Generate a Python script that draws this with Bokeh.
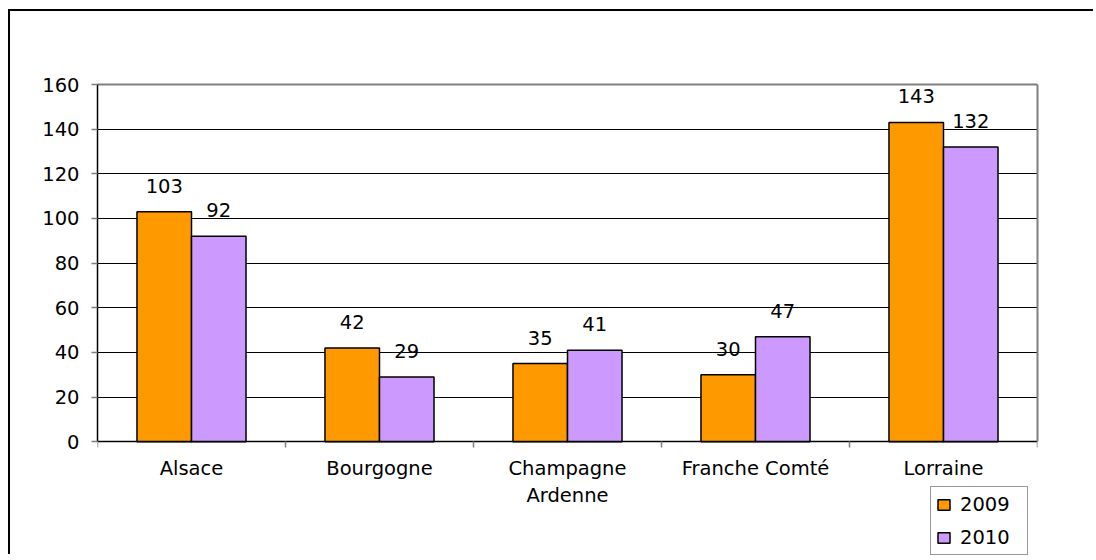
from bokeh.plotting import figure
from bokeh.models import (ColumnDataSource, FixedTicker, Range1d, Legend, LegendItem,
                          LabelSet, LinearAxis)
from bokeh.core.properties import value
from bokeh.transform import dodge
from bokeh.embed import file_html
from bokeh.resources import INLINE
import numpy as np

regions = ["Alsace", "Bourgogne", "Champagne\nArdenne", "Franche Comté", "Lorraine"]
values_2009 = [103, 42, 35, 30, 143]
values_2010 = [92, 29, 41, 47, 132]
series_names = ["2009", "2010"]
colors = ["#FF9900", "#CC99FF"]
y_ticks = [0, 20, 40, 60, 80, 100, 120, 140, 160]

FONT = "DejaVu Sans"
FS = "19.5px"

idx = np.arange(len(regions))
src = ColumnDataSource(dict(x=idx, v09=values_2009, v10=values_2010,
                            l09=[str(v) for v in values_2009],
                            l10=[str(v) for v in values_2010]))

# frame spans down to the figure's bottom so the legend (below the axis) is not clipped;
# value 0 sits 115px above the frame bottom on a 358px-per-160 scale
y_start = -160 * 115 / 358
p = figure(width=1085, height=545, output_backend="svg", toolbar_location=None,
           x_range=Range1d(-0.5, len(regions) - 0.5), y_range=Range1d(y_start, 160),
           x_axis_location=None,
           min_border_left=87, min_border_top=73, min_border_right=58, min_border_bottom=0)
p.styles = {"border-left": "2px solid #000", "border-top": "2px solid #000",
            "border-right": "none", "border-bottom": "none",
            "margin-left": "8px", "margin-top": "9px"}

bw = 0.29
r1 = p.vbar(x=dodge("x", -bw / 2, range=p.x_range), top="v09", width=bw, source=src,
            fill_color=colors[0], line_color="black", line_width=1.5)
r2 = p.vbar(x=dodge("x", bw / 2, range=p.x_range), top="v10", width=bw, source=src,
            fill_color=colors[1], line_color="black", line_width=1.5)

for col, ycol, off in (("l09", "v09", -bw / 2), ("l10", "v10", bw / 2)):
    ls = LabelSet(x=dodge("x", off, range=p.x_range), y=ycol, text=col, source=src,
                  text_align="center", text_baseline="alphabetic", y_offset=19,
                  text_font=value(FONT), text_font_size=value(FS), text_color="black")
    p.add_layout(ls)

# x axis, fixed at y = 0
xa = LinearAxis(fixed_location=0)
xa.ticker = FixedTicker(ticks=list(idx), minor_ticks=list(np.arange(len(regions) + 1) - 0.5))
xa.major_label_overrides = {int(i): r for i, r in zip(idx, regions)}
xa.major_tick_out = 0
xa.major_tick_in = 0
xa.minor_tick_out = 6
xa.minor_tick_in = 0
xa.minor_tick_line_color = "#808080"
xa.minor_tick_line_width = 1.5
xa.axis_line_color = "black"
xa.axis_line_width = 1.5
xa.major_label_text_font = FONT
xa.major_label_text_font_size = FS
xa.major_label_text_color = "black"
xa.major_label_standoff = 9
p.add_layout(xa, "below")

ya = p.yaxis[0]
ya.ticker = FixedTicker(ticks=y_ticks)
ya.bounds = (0, 160)
ya.minor_tick_line_color = None
ya.major_tick_out = 6
ya.major_tick_in = 0
ya.axis_line_color = "black"
ya.axis_line_width = 1.5
ya.major_tick_line_color = "#808080"
ya.major_tick_line_width = 1.5
ya.major_label_text_font = FONT
ya.major_label_text_font_size = FS
ya.major_label_text_color = "black"
ya.major_label_standoff = 12

# grey frame lines on the right and top
ra = LinearAxis(ticker=FixedTicker(ticks=[]), bounds=(0, 160),
                axis_line_color="#808080", axis_line_width=2,
                major_tick_line_color=None, minor_tick_line_color=None)
p.add_layout(ra, "right")
ta = LinearAxis(ticker=FixedTicker(ticks=[]), axis_line_color="#808080", axis_line_width=2,
                major_tick_line_color=None, minor_tick_line_color=None)
p.add_layout(ta, "above")

p.xgrid.grid_line_color = None
p.ygrid.ticker = FixedTicker(ticks=y_ticks[1:-1])
p.ygrid.grid_line_color = "black"
p.ygrid.grid_line_width = 1
p.outline_line_color = None
p.background_fill_color = "white"
p.border_fill_color = "white"

legend = Legend(items=[LegendItem(label=series_names[0], renderers=[r1]),
                       LegendItem(label=series_names[1], renderers=[r2])],
                location=(833, 1), orientation="vertical",
                label_text_font=FONT, label_text_font_size=FS, label_text_color="black",
                glyph_width=15, glyph_height=13, label_height=24, label_width=62,
                spacing=9, padding=5, margin=0, label_standoff=9,
                border_line_color="#333", border_line_width=1,
                background_fill_color="white", background_fill_alpha=1)
p.add_layout(legend, "center")

open("out.html", "w").write(file_html(p, INLINE))
